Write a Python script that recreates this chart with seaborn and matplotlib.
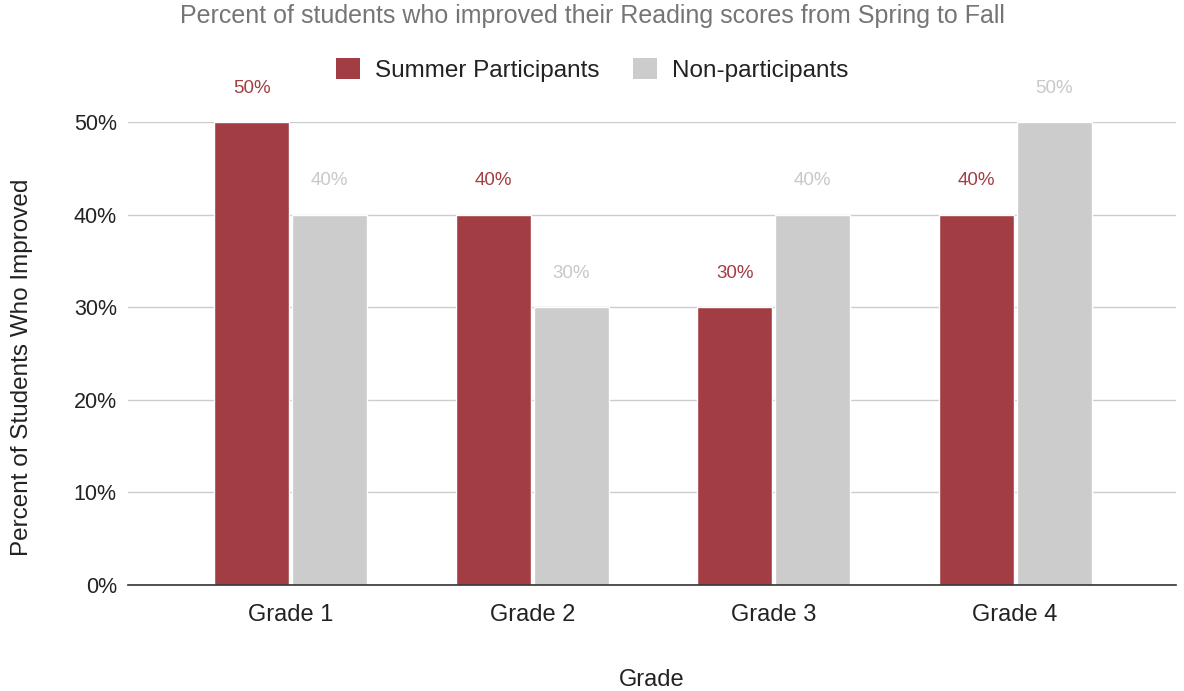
import matplotlib
matplotlib.use("Agg")
import matplotlib.pyplot as plt
import seaborn as sns
import pandas as pd
from matplotlib.ticker import PercentFormatter
from matplotlib.patches import Patch

grades = ["Grade 1", "Grade 2", "Grade 3", "Grade 4"]
summer = [0.50, 0.40, 0.30, 0.40]
nonpart = [0.40, 0.30, 0.40, 0.50]
series_names = ["Summer Participants", "Non-participants"]
colors = ["#a23d43", "#cccccc"]
label_colors = ["#a23d43", "#c8c8c8"]

df = pd.DataFrame({
    "Grade": grades * 2,
    "Value": summer + nonpart,
    "Series": [series_names[0]] * 4 + [series_names[1]] * 4,
})

sns.set_theme(style="white")
plt.rcParams["font.family"] = ["Liberation Sans", "DejaVu Sans"]

fig = plt.figure(figsize=(11.84, 6.91), dpi=100)
ax = fig.add_axes([0.108, 0.1534, 0.885, 0.670])

sns.barplot(data=df, x="Grade", y="Value", hue="Series", order=grades,
            hue_order=series_names, palette=colors, width=0.645, gap=0.035,
            saturation=1, ax=ax, legend=False)

ax.set_ylim(0, 0.5)
ax.set_xlim(-0.675, 3.665)
ax.set_yticks([0, 0.1, 0.2, 0.3, 0.4, 0.5])
ax.yaxis.set_major_formatter(PercentFormatter(1.0, decimals=0))
ax.grid(axis="y", color="#cccccc", linewidth=1)
ax.set_axisbelow(True)
for s in ["top", "right", "left"]:
    ax.spines[s].set_visible(False)
ax.spines["bottom"].set_color("#333333")
ax.spines["bottom"].set_linewidth(1.2)
ax.spines["bottom"].set_zorder(5)
ax.tick_params(axis="both", length=0, colors="#222222")
ax.tick_params(axis="x", labelsize=17, pad=14)
ax.tick_params(axis="y", labelsize=15.5, pad=8)

ax.set_xlabel("Grade", fontsize=17, color="#222222", va="center")
ax.xaxis.set_label_coords(0.5, -0.205)
ax.set_ylabel("Percent of Students Who Improved", fontsize=17.5,
              color="#222222", va="center")
ax.yaxis.set_label_coords(-0.101, 0.47)

for cont, lc in zip(ax.containers, label_colors):
    for bar in cont:
        h = bar.get_height()
        ax.annotate(f"{h*100:.0f}%", (bar.get_x() + bar.get_width() / 2, h),
                    xytext=(0, 34), textcoords="offset pixels",
                    ha="center", va="center", fontsize=13.5, color=lc,
                    annotation_clip=False)

fig.text(0.5, 0.977, "Percent of students who improved their Reading scores from Spring to Fall",
         ha="center", va="center", fontsize=18, color="#757575")

handles = [Patch(facecolor=c, edgecolor="none") for c in colors]
fig.legend(handles, series_names, loc="center", bbox_to_anchor=(0.5, 0.899),
           ncol=2, frameon=False, fontsize=17.5, handlelength=1.0,
           handleheight=1.0, handletextpad=0.6, columnspacing=1.4,
           labelcolor="#222222")

fig.savefig("out.png", dpi=100)
